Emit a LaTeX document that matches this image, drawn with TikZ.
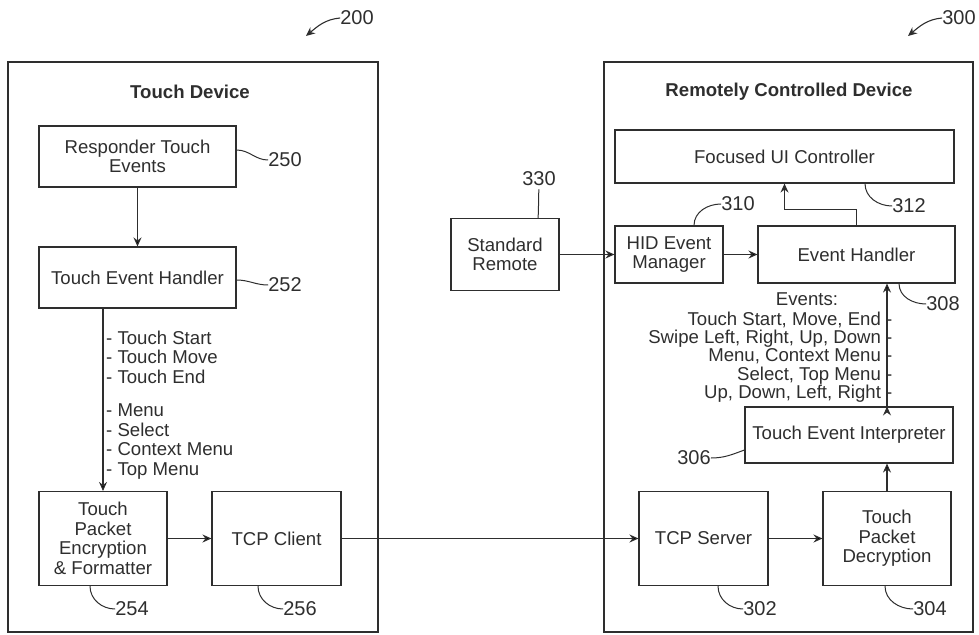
\documentclass[tikz,border=0pt]{standalone}
\usepackage{fontspec}
\setmainfont{Liberation Sans}
\usepackage{tikz}
\usetikzlibrary{arrows.meta,positioning,calc}
\definecolor{ink}{HTML}{2E2E2E}
\tikzset{
	flow/.style={draw=ink, line width=1.1pt, -{Stealth[length=9pt,width=8pt,inset=3pt]}},% arrows between the blocks
	lead/.style={draw=ink, line width=1pt}, % the little curved lines to the numbers
	refnum/.style={font=\fontsize{20}{20}\selectfont, inner sep=0pt}
}
\begin{document}
\begin{tikzpicture}[x=1pt,y=1pt,
            every node/.style={font=\fontsize{18.6}{19.5}\selectfont, text=ink},
            box/.style={draw=ink, line width=1.1pt, align=center, inner sep=2pt},
            frame/.style={draw=ink, line width=1.1pt, inner sep=0pt},
            title/.style={font=\fontsize{18.6}{20}\selectfont\bfseries},
            tickline/.style={draw=ink, line width=1.1pt}
        ]
            \useasboundingbox (0,0) rectangle (979,-634);
            % the two devices
            \node[frame, minimum width=370pt, minimum height=570pt] (tdev) at (193,-347) {};
            \node[frame, minimum width=369pt, minimum height=570pt] (rcdev) at (788.5,-347) {};
            \node[title] (tdtitle) at (190,-92) {Touch Device};
            \node[title] (rctitle) at (789,-92) {Remotely Controlled Device};
            % touch device side
            \node[box, minimum width=197pt, minimum height=61pt] (rte) at (137.5,-156.5) {Responder Touch\\Events};
            \node[box, minimum width=197pt, minimum height=61pt] (teh) at (137.5,-277.5) {Touch Event Handler};
            \node[box, minimum width=128pt, minimum height=94pt] (tpe) at (103,-538.5) {Touch\\Packet\\Encryption\\\& Formatter};
            \node[box, minimum width=129pt, minimum height=94pt] (tcpc) at (276.5,-538.5) {TCP Client};
            \node[anchor=west, align=left, inner sep=0pt] (tlist) at (106,-405)
                {- Touch Start\\- Touch Move\\- Touch End\\[14pt]- Menu\\- Select\\- Context Menu\\- Top Menu};
            % remotely controlled device side
            \node[box, minimum width=339pt, minimum height=53pt] (fui) at (784.5,-156.5) {Focused UI Controller};
            \node[box, minimum width=108pt, minimum height=57pt] (hid) at (669,-254.5) {HID Event\\Manager};
            \node[box, minimum width=197pt, minimum height=57pt] (evh) at (856.5,-254.5) {Event Handler};
            \node[box, minimum width=108pt, minimum height=72pt] (srem) at (505,-254.5) {Standard\\Remote};
            \node[box, minimum width=208pt, minimum height=56pt] (tei) at (849,-435) {Touch Event Interpreter};
            \node[box, minimum width=129pt, minimum height=94pt] (tcps) at (703.5,-538.5) {TCP Server};
            \node[box, minimum width=128pt, minimum height=94pt] (tpd) at (887,-538.5) {Touch\\Packet\\Decryption};
            \node[inner sep=0pt] (evtitle) at (807,-299) {Events:};
            \node[anchor=east, align=right, inner sep=0pt, font=\fontsize{18.6}{18.2}\selectfont] (elist) at (892.5,-357)
                {Touch Start, Move, End -\\Swipe Left, Right, Up, Down -\\Menu, Context Menu -\\Select, Top Menu -\\Up, Down, Left, Right -};
            % reference numbers
            \node[refnum] (n200) at (357,-18) {200};
            \node[refnum] (n300) at (959,-18) {300};
            \node[refnum] (n250) at (285,-160) {250};
            \node[refnum] (n252) at (285,-285) {252};
            \node[refnum] (n254) at (132,-609) {254};
            \node[refnum] (n256) at (300,-609) {256};
            \node[refnum] (n302) at (760,-609) {302};
            \node[refnum] (n304) at (930,-609) {304};
            \node[refnum] (n306) at (694,-458) {306};
            \node[refnum] (n308) at (943,-304) {308};
            \node[refnum] (n310) at (738,-204) {310};
            \node[refnum] (n312) at (909,-206) {312};
            \node[refnum] (n330) at (539,-179) {330};
            \coordinate (a200) at (306,-36);
            \coordinate (a300) at (908,-36);
            % flows
            \path[flow]
                (rte) edge (teh)
                (tpe.north |- teh.south) edge (tpe.north)
                (tpe) edge (tcpc)
                (tcpc) edge (tcps)
                (tcps) edge (tpd)
                (tpd.north) edge (tpd.north |- tei.south)
                (tpd.north |- tei.north) edge (tpd.north |- evh.south)
                (srem) edge (hid)
                (hid) edge (evh);
            \draw[flow] (evh.north) -- ++(0,16) -| (fui.south);
            \draw[flow] (n200.west) to[out=185,in=40] (a200);
            \draw[flow] (n300.west) to[out=185,in=40] (a300);
            % leaders
            \draw[lead] ([yshift=6.5pt]rte.east) to[out=0,in=180] (n250.west);
            \draw[lead] ([yshift=-2.5pt]teh.east) to[out=0,in=180] (n252.west);
            \draw[lead] ([xshift=-13pt]tpe.south) to[out=-90,in=180] (n254.west);
            \draw[lead] ([xshift=-18.5pt]tcpc.south) to[out=-90,in=180] (n256.west);
            \draw[lead] ([xshift=14.5pt]tcps.south) to[out=-90,in=180] (n302.west);
            \draw[lead] ([xshift=-2pt]tpd.south) to[out=-90,in=180] (n304.west);
            \draw[lead] (n306.east) to[out=0,in=200] ([yshift=-15pt]tei.west);
            \draw[lead] ([xshift=42.5pt]evh.south) to[out=-90,in=180] (n308.west);
            \draw[lead] ([xshift=25pt]hid.north) to[out=90,in=180] (n310.west);
            \draw[lead] ([xshift=80.5pt]fui.south) to[out=-90,in=180] (n312.west);
            \draw[lead] ([xshift=33pt]srem.north) to[out=85,in=-95] ([yshift=-3pt]n330.south);
        \end{tikzpicture}
\end{document}
